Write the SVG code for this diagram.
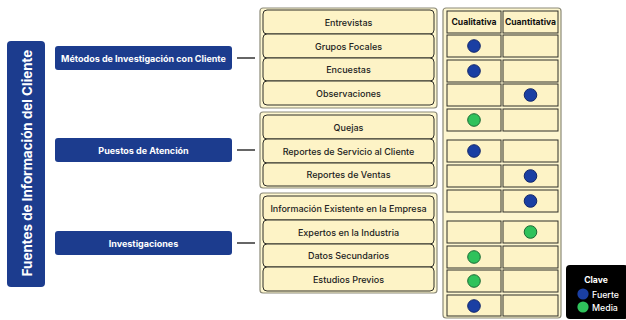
<svg xmlns="http://www.w3.org/2000/svg" width="626" height="320" viewBox="0 0 626 320">
<style>
.bar{fill:#1c3c8e;}
.cat{fill:#1c3c8e;}
.wt{fill:#fff;font-family:Inter,"Liberation Sans",sans-serif;font-weight:700;text-anchor:middle;dominant-baseline:central;}
.grp{fill:#fdf6cf;stroke:#8c8a78;stroke-width:1.2;}
.item{fill:#fdf3c6;stroke:#2f2f28;stroke-width:1;}
.it{fill:#222;font-family:Inter,"Liberation Sans",sans-serif;font-size:9px;font-weight:500;text-anchor:middle;dominant-baseline:central;}
.ht{fill:#111;font-family:Inter,"Liberation Sans",sans-serif;font-size:8.6px;font-weight:700;text-anchor:middle;dominant-baseline:central;}
.cell{fill:#fdf3c6;stroke:#2f2f28;stroke-width:1;}
.blue{fill:#1a3fa3;stroke:#14286a;stroke-width:1;}
.green{fill:#2fc25b;stroke:#1c6a35;stroke-width:1;}
.conn{stroke:#333;stroke-width:1.5;}
</style>
<rect width="626" height="320" fill="#fff"/>
<g id="title">
<rect class="bar" x="7" y="41" width="38" height="246" rx="4"/>
<text class="wt" font-size="13.4" transform="translate(27,163) rotate(-90)">Fuentes de Información del Cliente</text>
</g>
<g id="cat-metodos">
<rect class="cat" x="55" y="46" width="177" height="24" rx="3"/>
<text class="wt" font-size="9" x="143.5" y="58">Métodos de Investigación con Cliente</text>
</g>
<g id="cat-puestos">
<rect class="cat" x="55" y="138" width="177" height="24" rx="3"/>
<text class="wt" font-size="9" x="143.5" y="150">Puestos de Atención</text>
</g>
<g id="cat-investigaciones">
<rect class="cat" x="55" y="231" width="177" height="24" rx="3"/>
<text class="wt" font-size="9" x="143.5" y="243">Investigaciones</text>
</g>
<g id="connectors">
<line class="conn" x1="237" y1="58" x2="255" y2="58"/>
<line class="conn" x1="237" y1="150" x2="255" y2="150"/>
<line class="conn" x1="237" y1="243" x2="255" y2="243"/>
</g>
<g id="group-metodos">
<rect class="grp" x="260" y="8" width="177" height="100" rx="3"/>
<rect class="item" x="263" y="10" width="171" height="24" rx="4"/>
<text class="it" x="348.5" y="22">Entrevistas</text>
<rect class="item" x="263" y="34" width="171" height="24" rx="4"/>
<text class="it" x="348.5" y="46">Grupos Focales</text>
<rect class="item" x="263" y="58" width="171" height="23" rx="4"/>
<text class="it" x="348.5" y="69.5">Encuestas</text>
<rect class="item" x="263" y="81" width="171" height="24" rx="4"/>
<text class="it" x="348.5" y="93">Observaciones</text>
</g>
<g id="group-puestos">
<rect class="grp" x="260" y="112" width="177" height="76" rx="3"/>
<rect class="item" x="263" y="115" width="171" height="24" rx="4"/>
<text class="it" x="348.5" y="127">Quejas</text>
<rect class="item" x="263" y="139" width="171" height="24" rx="4"/>
<text class="it" x="348.5" y="151">Reportes de Servicio al Cliente</text>
<rect class="item" x="263" y="163" width="171" height="23" rx="4"/>
<text class="it" x="348.5" y="174.5">Reportes de Ventas</text>
</g>
<g id="group-investigaciones">
<rect class="grp" x="260" y="193" width="177" height="100" rx="3"/>
<rect class="item" x="263" y="196" width="171" height="24" rx="4"/>
<text class="it" x="348.5" y="208">Información Existente en la Empresa</text>
<rect class="item" x="263" y="220" width="171" height="24" rx="4"/>
<text class="it" x="348.5" y="232">Expertos en la Industria</text>
<rect class="item" x="263" y="244" width="171" height="23" rx="4"/>
<text class="it" x="348.5" y="255.5">Datos Secundarios</text>
<rect class="item" x="263" y="267" width="171" height="24" rx="4"/>
<text class="it" x="348.5" y="279">Estudios Previos</text>
</g>
<g id="table">
<rect class="grp" x="443" y="8" width="118" height="310" rx="3"/>
<rect class="cell" x="447" y="11" width="54" height="22"/>
<rect class="cell" x="503" y="11" width="55" height="22"/>
<text class="ht" x="474" y="22">Cualitativa</text>
<text class="ht" x="530.5" y="22">Cuantitativa</text>
<rect class="cell" x="447" y="35" width="54" height="22"/><rect class="cell" x="503" y="35" width="55" height="22"/>
<rect class="cell" x="447" y="60" width="54" height="22"/><rect class="cell" x="503" y="60" width="55" height="22"/>
<rect class="cell" x="447" y="84" width="54" height="22"/><rect class="cell" x="503" y="84" width="55" height="22"/>
<rect class="cell" x="447" y="109" width="54" height="22"/><rect class="cell" x="503" y="109" width="55" height="22"/>
<rect class="cell" x="447" y="140" width="54" height="22"/><rect class="cell" x="503" y="140" width="55" height="22"/>
<rect class="cell" x="447" y="165" width="54" height="22"/><rect class="cell" x="503" y="165" width="55" height="22"/>
<rect class="cell" x="447" y="190" width="54" height="22"/><rect class="cell" x="503" y="190" width="55" height="22"/>
<rect class="cell" x="447" y="221" width="54" height="22"/><rect class="cell" x="503" y="221" width="55" height="22"/>
<rect class="cell" x="447" y="246" width="54" height="22"/><rect class="cell" x="503" y="246" width="55" height="22"/>
<rect class="cell" x="447" y="270" width="54" height="22"/><rect class="cell" x="503" y="270" width="55" height="22"/>
<rect class="cell" x="447" y="295" width="54" height="21"/><rect class="cell" x="503" y="295" width="55" height="21"/>
<circle class="blue" cx="474" cy="46" r="6.3"/>
<circle class="blue" cx="474" cy="71" r="6.3"/>
<circle class="blue" cx="530.5" cy="95" r="6.3"/>
<circle class="green" cx="474" cy="120" r="6.3"/>
<circle class="blue" cx="474" cy="151" r="6.3"/>
<circle class="blue" cx="530.5" cy="176" r="6.3"/>
<circle class="blue" cx="530.5" cy="201" r="6.3"/>
<circle class="green" cx="530.5" cy="232" r="6.3"/>
<circle class="green" cx="474" cy="257" r="6.3"/>
<circle class="green" cx="474" cy="281" r="6.3"/>
<circle class="blue" cx="474" cy="306" r="6.3"/>
</g>
<g id="legend">
<rect x="566" y="265" width="62" height="54" rx="4" fill="#000"/>
<text class="wt" font-size="8.6" x="596" y="280">Clave</text>
<circle cx="583" cy="294" r="5.6" fill="#1a3fa3"/>
<circle cx="583" cy="307" r="5.6" fill="#2fc25b"/>
<text x="592" y="294.5" fill="#fff" font-family="Inter,'Liberation Sans',sans-serif" font-size="8.8" font-weight="500" dominant-baseline="central">Fuerte</text>
<text x="592" y="307.5" fill="#fff" font-family="Inter,'Liberation Sans',sans-serif" font-size="8.8" font-weight="500" dominant-baseline="central">Media</text>
</g>
</svg>
